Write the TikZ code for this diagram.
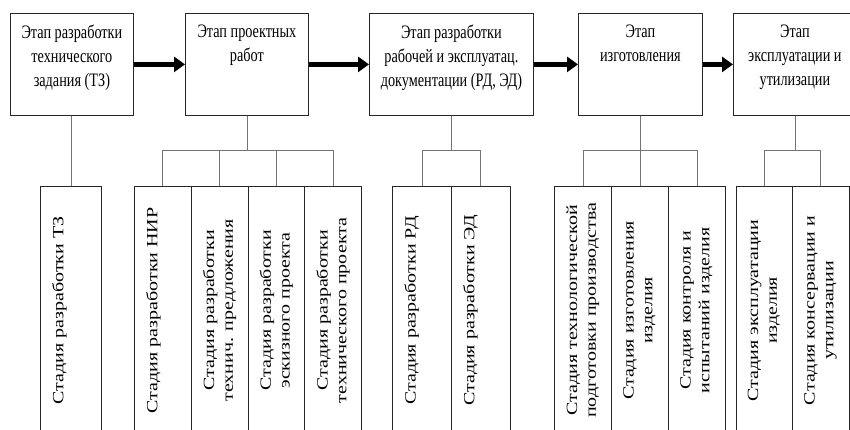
\documentclass[tikz,border=0pt]{standalone}
\usepackage{fontspec}
\setmainfont{Liberation Serif}
\newfontfamily\etapfont[FakeStretch=0.75]{Liberation Serif}
\usetikzlibrary{calc}
\usetikzlibrary{arrows.meta}
\tikzset{
	etap/.style={draw=black!85, line width=.8pt, anchor=north west, inner sep=0pt, minimum height=102pt},
	etaptext/.style={anchor=north, inner sep=0pt, align=center, font=\etapfont\fontsize{19}{24}\selectfont},
	stadia/.style={draw=black!85, line width=.8pt, anchor=north west, inner sep=0pt, minimum height=248pt},
	stadiatext/.style={rotate=90, yscale=.78, anchor=north, inner sep=0pt, align=center, font=\fontsize{20}{24}\selectfont},
	perehod/.style={line width=4.5pt, -{Triangle[length=11pt,width=15pt]}},
	svyaz/.style={draw=black!55, line width=.8pt},
}

\begin{document}
\begin{tikzpicture}[x=1pt,y=-1pt]
	\useasboundingbox (0,0) rectangle (850,430);
	\clip (0,0) rectangle (850,430);
	% etapy
	\node[etap, minimum width=123pt] (T1) at (10,13) {};
	\node[etap, minimum width=123pt] (T2) at (185,13) {};
	\node[etap, minimum width=164pt] (T3) at (369,13) {};
	\node[etap, minimum width=124pt] (T4) at (578,13) {};
	\node[etap, minimum width=123pt] (T5) at (733,13) {};
	\node[etaptext] (T1t) at ([yshift=-12pt]T1.north) {Этап разработки\\технического\\задания (ТЗ)};
	\node[etaptext] (T2t) at ([yshift=-12pt]T2.north) {Этап проектных\\работ};
	\node[etaptext] (T3t) at ([yshift=-12pt]T3.north) {Этап разработки\\рабочей и эксплуатац.\\документации (РД, ЭД)};
	\node[etaptext] (T4t) at ([yshift=-12pt]T4.north) {Этап\\изготовления};
	\node[etaptext] (T5t) at ([yshift=-12pt]T5.north) {Этап\\эксплуатации и\\утилизации};
	\draw[perehod] (T1.east) -- (T2.west);
	\draw[perehod] (T2.east) -- (T3.west);
	\draw[perehod] (T3.east) -- (T4.west);
	\draw[perehod] (T4.east) -- (T5.west);
	% stadii
	\foreach \n/\x/\w/\t in {S1/40/61/{Стадия разработки ТЗ},
		S2a/134/56.75/{Стадия разработки НИР},
		S2b/190.75/56.75/{Стадия разработки\\технич. предложения},
		S2c/247.5/56.75/{Стадия разработки\\эскизного проекта},
		S2d/304.25/56.75/{Стадия разработки\\технического проекта},
		S3a/392.3/58.7/{Стадия разработки РД},
		S3b/451/58.7/{Стадия разработки ЭД},
		S4a/554.3/56.9/{Стадия технологической\\подготовки производства},
		S4b/611.2/56.9/{Стадия изготовления\\изделия},
		S4c/668.1/56.9/{Стадия контроля и\\испытаний изделия},
		S5a/735.7/56.4/{Стадия эксплуатации\\изделия},
		S5b/792.1/56.4/{Стадия консервации и\\утилизации}}
	{
		\node[stadia, minimum width=\w pt] (\n) at (\x,186) {};
		\node[stadiatext] (\n-t) at ([xshift=12pt]\n.west) {\t};
	}
	% svyazi
	\draw[svyaz] (S1.north) -- (S1.north |- T1.south);
	\draw[svyaz] (T2.south) -- ++(0,35) coordinate (b2);
	\draw[svyaz] (T3.south) -- ++(0,35) coordinate (b3);
	\draw[svyaz] (T4.south) -- ++(0,35) coordinate (b4);
	\draw[svyaz] (T5.south) -- ++(0,35) coordinate (b5);
	\foreach \n in {S2a,S2b,S2c,S2d} \draw[svyaz] (\n.north) |- (b2);
	\foreach \n in {S3a,S3b} \draw[svyaz] (\n.north) |- (b3);
	\foreach \n in {S4a,S4b,S4c} \draw[svyaz] (\n.north) |- (b4);
	\foreach \n in {S5a,S5b} \draw[svyaz] (\n.north) |- (b5);
\end{tikzpicture}
\end{document}
